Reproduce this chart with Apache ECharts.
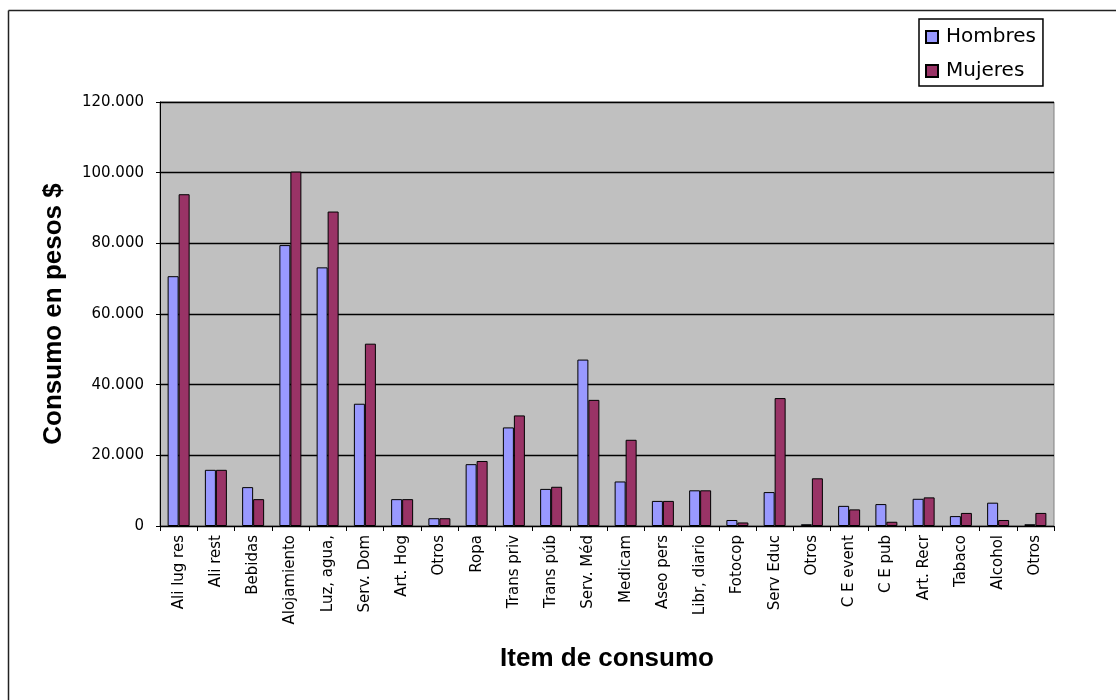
<!DOCTYPE html>
<html>
<head>
<meta charset="utf-8">
<style>
  html, body { margin: 0; padding: 0; background: #fff; }
  #chart { width: 1116px; height: 700px; }
</style>
<script src="https://cdn.jsdelivr.net/npm/echarts@6/dist/echarts.min.js"></script>
</head>
<body>
<div id="chart"></div>
<script>
// Consumption items (x axis)
const categories = [
  'Ali lug res', 'Ali rest', 'Bebidas', 'Alojamiento', 'Luz, agua,',
  'Serv. Dom', 'Art. Hog', 'Otros', 'Ropa', 'Trans priv',
  'Trans púb', 'Serv. Méd', 'Medicam', 'Aseo pers', 'Libr, diario',
  'Fotocop', 'Serv Educ', 'Otros', 'C E event', 'C E pub',
  'Art. Recr', 'Tabaco', 'Alcohol', 'Otros'
];
// Spending in pesos, men
const hombres = [
  70700, 15900, 11000, 79500, 73200,
  34600, 7600, 2200, 17500, 27900,
  10500, 47100, 12600, 7100, 10100,
  1700, 9600, 500, 5700, 6200,
  7700, 2800, 6600, 500
];
// Spending in pesos, women
const mujeres = [
  93900, 15900, 7600, 100300, 89000,
  51600, 7600, 2200, 18400, 31300,
  11100, 35700, 24400, 7100, 10100,
  1000, 36200, 13500, 4700, 1200,
  8100, 3700, 1700, 3700
];
// Value axis ticks
const yTicks = [0, 20000, 40000, 60000, 80000, 100000, 120000];

// 20000 -> "20.000"
const thousands = v => v === 0 ? '0' : Math.floor(v / 1000) + '.' + String(v % 1000).padStart(3, '0');

const chart = echarts.init(document.getElementById('chart'), null, { renderer: 'canvas' });
const sans = 'Liberation Sans, Arial, sans-serif';
const wide = 'DejaVu Sans, sans-serif';
const barStyle = (color) => ({ color: color, borderColor: '#000', borderWidth: 1 });

chart.setOption({
  animation: false,
  backgroundColor: '#fff',
  textStyle: { fontFamily: sans },
  graphic: [
    { type: 'line', shape: { x1: 8.5, y1: 10.5, x2: 1116, y2: 10.5 }, style: { stroke: '#222', lineWidth: 1.5 } },
    { type: 'line', shape: { x1: 8.5, y1: 10.5, x2: 8.5, y2: 700 }, style: { stroke: '#222', lineWidth: 1.5 } }
  ],
  legend: {
    orient: 'vertical',
    left: 919,
    top: 19,
    padding: [8, 7, 5, 6],
    itemGap: 14,
    itemWidth: 12,
    itemHeight: 12,
    icon: 'rect',
    borderColor: '#000',
    borderWidth: 1.5,
    backgroundColor: '#fff',
    textStyle: { fontFamily: wide, fontSize: 20, color: '#000', padding: [0, 0, 0, 3] },
    data: ['Hombres', 'Mujeres']
  },
  grid: {
    left: 160, right: 62, top: 102, bottom: 174,
    show: true,
    backgroundColor: '#c0c0c0',
    borderColor: '#808080',
    borderWidth: 1
  },
  xAxis: {
    type: 'category',
    data: categories,
    name: 'Item de consumo',
    nameLocation: 'middle',
    nameGap: 120,
    nameTextStyle: { fontFamily: sans, fontSize: 26, fontWeight: 'bold', color: '#000' },
    axisLine: { lineStyle: { color: '#000', width: 1 } },
    axisTick: { show: true, length: 5, lineStyle: { color: '#000' } },
    axisLabel: { rotate: 90, interval: 0, fontSize: 15, color: '#000', fontFamily: wide, margin: 9 }
  },
  yAxis: {
    type: 'value',
    min: yTicks[0],
    max: yTicks[yTicks.length - 1],
    interval: yTicks[1] - yTicks[0],
    name: 'Consumo en pesos $',
    nameLocation: 'middle',
    nameGap: 93,
    nameTextStyle: { fontFamily: sans, fontSize: 26, fontWeight: 'bold', color: '#000' },
    axisLine: { show: true, lineStyle: { color: '#000', width: 1 } },
    axisTick: { show: true, length: 4, lineStyle: { color: '#000' } },
    axisLabel: { fontSize: 15, color: '#000', fontFamily: wide, margin: 16, formatter: thousands },
    splitLine: { lineStyle: { color: '#000', width: 1.3 } }
  },
  series: [
    { name: 'Hombres', type: 'bar', data: hombres, barWidth: 11, barGap: '0%', itemStyle: barStyle('#9999ff') },
    { name: 'Mujeres', type: 'bar', data: mujeres, barWidth: 11, barGap: '0%', itemStyle: barStyle('#993366') }
  ]
});
</script>
</body>
</html>
